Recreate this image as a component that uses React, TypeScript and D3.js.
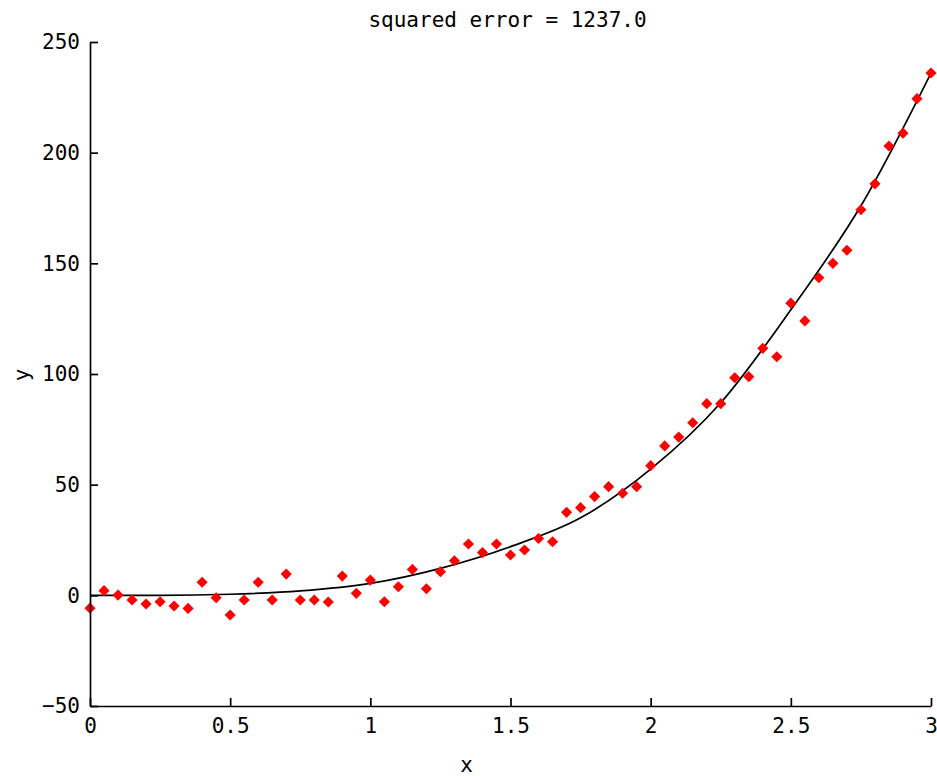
import React, { useEffect, useRef } from "react";
import * as d3 from "d3";

const sampleX = [
  0, 0.05, 0.1, 0.15, 0.2, 0.25, 0.3, 0.35, 0.4, 0.45, 0.5, 0.55, 0.6, 0.65, 0.7, 0.75, 0.8, 0.85, 0.9, 0.95,
  1.0, 1.05, 1.1, 1.15, 1.2, 1.25, 1.3, 1.35, 1.4, 1.45, 1.5, 1.55, 1.6, 1.65, 1.7, 1.75, 1.8, 1.85, 1.9, 1.95,
  2.0, 2.05, 2.1, 2.15, 2.2, 2.25, 2.3, 2.35, 2.4, 2.45, 2.5, 2.55, 2.6, 2.65, 2.7, 2.75, 2.8, 2.85, 2.9, 2.95, 3.0,
];
const sampleY = [
  -5.8, 2.1, 0.1, -2.1, -3.9, -2.9, -4.8, -5.9, 5.9, -1.1, -8.9, -2.1, 5.9, -2.1, 9.6, -2.1, -2.1, -3.0, 8.7, 0.9,
  6.9, -2.9, 3.9, 11.7, 3.0, 10.7, 15.6, 23.2, 19.3, 23.2, 18.2, 20.5, 25.7, 24.2, 37.5, 39.6, 44.6, 49.1, 46.1, 49.1,
  58.6, 67.5, 71.5, 78.0, 86.6, 86.6, 98.3, 98.8, 111.6, 107.8, 132.0, 124.0, 143.5, 150.0, 155.9, 174.2, 185.9, 203.0, 208.8, 224.4, 236.0,
];

// fitted curve, read at a coarser grid
const fitX = [0, 0.25, 0.5, 0.75, 1.0, 1.25, 1.5, 1.75, 2.0, 2.25, 2.5, 2.75, 3.0];
const fitY = [0, 0, 0.5, 2, 5.4, 12.2, 22, 35, 57, 87, 129, 176, 236];

const xTicks = [0, 0.5, 1, 1.5, 2, 2.5, 3];
const yTicks = [-50, 0, 50, 100, 150, 200, 250];

const title = "squared error = 1237.0";
const xLabel = "x";
const yLabel = "y";

const FONT = "'DejaVu Sans Mono', 'Liberation Mono', monospace";

const App = () => {
  const svgRef = useRef(null);

  useEffect(() => {
    const width = 937;
    const height = 776;
    const margin = { top: 42, right: 6, bottom: 70, left: 90 };

    const svg = d3.select(svgRef.current);
    svg.selectAll("*").remove();
    svg.attr("width", width).attr("height", height);

    const xScale = d3
      .scaleLinear()
      .domain([0, 3])
      .range([margin.left, width - margin.right]);

    const yScale = d3
      .scaleLinear()
      .domain([-50, 250])
      .range([height - margin.bottom, margin.top]);

    // fitted line
    const fit = fitX.map((x, i) => ({ x, y: fitY[i] }));
    const line = d3
      .line()
      .x((d) => xScale(d.x))
      .y((d) => yScale(d.y))
      .curve(d3.curveMonotoneX);

    svg
      .append("path")
      .datum(fit)
      .attr("fill", "none")
      .attr("stroke", "black")
      .attr("stroke-width", 1.7)
      .attr("d", line);

    // red diamond markers
    const pts = sampleX.map((x, i) => ({ x, y: sampleY[i] }));
    const diamond = d3.symbol().type(d3.symbolSquare).size(62);
    svg
      .append("g")
      .selectAll("path")
      .data(pts)
      .join("path")
      .attr("d", diamond)
      .attr("transform", (d) => `translate(${xScale(d.x)},${yScale(d.y)}) rotate(45)`)
      .attr("fill", "#ff0000");

    // x axis (ticks point inward)
    const gx = svg
      .append("g")
      .attr("transform", `translate(0, ${height - margin.bottom})`)
      .call(
        d3
          .axisBottom(xScale)
          .tickValues(xTicks)
          .tickFormat(d3.format("~g"))
          .tickSizeInner(-8)
          .tickSizeOuter(0)
          .tickPadding(12)
      );
    gx.selectAll("text")
      .attr("font-family", FONT)
      .attr("font-size", 21)
      .attr("fill", "black");
    gx.selectAll("path, line").attr("stroke", "black").attr("stroke-width", 1.7);

    // y axis (ticks point inward)
    const gy = svg
      .append("g")
      .attr("transform", `translate(${margin.left}, 0)`)
      .call(
        d3
          .axisLeft(yScale)
          .tickValues(yTicks)
          .tickSizeInner(-8)
          .tickSizeOuter(0)
          .tickPadding(10)
      );
    gy.selectAll("text")
      .attr("font-family", FONT)
      .attr("font-size", 21)
      .attr("fill", "black");
    gy.selectAll("path, line").attr("stroke", "black").attr("stroke-width", 1.7);

    // title
    svg
      .append("text")
      .attr("x", (margin.left + width - margin.right) / 2 - 3)
      .attr("y", 27)
      .attr("text-anchor", "middle")
      .attr("font-family", FONT)
      .attr("font-size", 21)
      .text(title);

    // axis labels
    svg
      .append("text")
      .attr("x", (margin.left + width - margin.right) / 2 - 44)
      .attr("y", 772)
      .attr("text-anchor", "middle")
      .attr("font-family", FONT)
      .attr("font-size", 21)
      .text(xLabel);

    svg
      .append("text")
      .attr("transform", `translate(29, ${yScale(100) + 1}) rotate(-90)`)
      .attr("text-anchor", "middle")
      .attr("font-family", FONT)
      .attr("font-size", 21)
      .text(yLabel);
  }, []);

  return (
    <svg
      ref={svgRef}
      style={{ position: "absolute", left: 0, top: 0, background: "white" }}
    ></svg>
  );
};

export default App;
